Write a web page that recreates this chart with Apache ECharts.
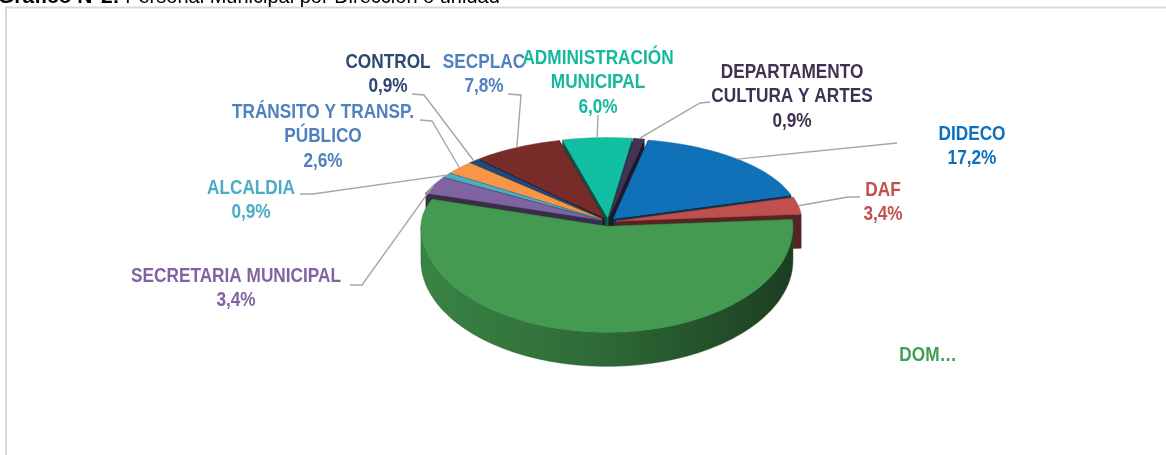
<!DOCTYPE html>
<html>
<head>
<meta charset="utf-8">
<script src="https://cdn.jsdelivr.net/npm/echarts@6/dist/echarts.min.js"></script>
<style>
html, body { margin: 0; padding: 0; background: #fff; }
#main { width: 1166px; height: 455px; }
</style>
</head>
<body>
<div id="main"></div>
<script>
var categories = ['ADMINISTRACIÓN\nMUNICIPAL', 'DEPARTAMENTO\nCULTURA Y ARTES', 'DIDECO', 'DAF', 'DOM',
    'SECRETARIA MUNICIPAL', 'ALCALDIA', 'TRÁNSITO Y TRANSP.\nPÚBLICO', 'CONTROL', 'SECPLAC'];
var values = [6.0, 0.9, 17.2, 3.4, 56.9, 3.4, 0.9, 2.6, 0.9, 7.8];
// DOM label is cut off in the original
var shortLabels = [null, null, null, null, 'DOM…', null, null, null, null, null];

var sliceColors = ['#12BFA2', '#433356', '#1071B9', '#C0504D', '#439A50', '#8064A2', '#4BACC6', '#F79646', '#1F497D', '#772C2A'];
var labelColors = ['#14B89C', '#3F3151', '#0B70BF', '#C0504D', '#3DA14F', '#8064A2', '#4BACC6', '#4F81BD', '#2C4770', '#4F81BD'];

// label layout (centre of first line) and leader line points on the label side
var labelPos = [[598, 58], [792, 72], [972, 134], [883, 190], [928, 355], [236, 276], [251, 188], [323, 112], [388, 62], [484, 62]];
var leaderPts = [[[598, 115]], [[710, 102], [700, 103]], [[897, 143]], [[860, 197], [848, 197]], null,
    [[350, 285], [362, 285]], [[300, 194], [313, 194]], [[420, 120], [432, 121]], [[412, 94], [424, 95]], [[508, 94], [521, 95]]];

var CX = 608, CY = 222, RX = 186, RYB = 80, RYF = 106, H = 34, EXP = 8, START = -14;

var total = values.reduce(function (a, b) { return a + b; }, 0);
var starts = [];
var acc = START;
values.forEach(function (v) { starts.push(acc); acc += v / total * 360; });

function shade(hex, f) {
    var n = parseInt(hex.slice(1), 16);
    var r = Math.round(((n >> 16) & 255) * f), g = Math.round(((n >> 8) & 255) * f), b = Math.round((n & 255) * f);
    return 'rgb(' + r + ',' + g + ',' + b + ')';
}

function pt(th, ox, oy, dz) {
    var r = th * Math.PI / 180;
    var c = Math.cos(r);
    var ry = c > 0 ? RYB : RYF;
    return [CX + ox + RX * Math.sin(r), CY + oy - ry * c + dz];
}

function arc(s, e, ox, oy, dz) {
    var pts = [];
    var n = Math.max(2, Math.ceil(Math.abs(e - s) / 2));
    for (var i = 0; i <= n; i++) {
        pts.push(pt(s + (e - s) * i / n, ox, oy, dz));
    }
    return pts;
}

function visibleRange(a0, a1) {
    for (var k = -360; k <= 360; k += 360) {
        var s = Math.max(a0, 90 + k), e = Math.min(a1, 270 + k);
        if (e > s) return [s, e];
    }
    return null;
}

function fmt(v) {
    return v.toFixed(1).replace('.', ',') + '%';
}

// draw order: back slices first
var depthRank = values.map(function (v, i) {
    var mid = starts[i] + v / total * 180;
    return { i: i, d: -Math.cos(mid * Math.PI / 180) };
}).sort(function (a, b) { return a.d - b.d; });
var rankOf = [];
depthRank.forEach(function (o, k) { rankOf[o.i] = k; });

function renderSlice(params, api) {
    var i = params.dataIndex;
    var v = api.value(0);
    var a0 = starts[i];
    var a1 = a0 + v / total * 360;
    var mid = (a0 + a1) / 2;
    var mr = mid * Math.PI / 180;
    var ox = EXP * Math.sin(mr), oy = -EXP * Math.cos(mr) * 0.55;
    var col = sliceColors[i];
    var base = rankOf[i] * 10;
    var c0 = [CX + ox, CY + oy];
    var c1 = [CX + ox, CY + oy + H];
    var children = [];

    // radial faces, back-facing first
    var faces = [[a0, a0 - 90], [a1, a1 + 90]].map(function (f) {
        var p0 = pt(f[0], ox, oy, 0), p1 = pt(f[0], ox, oy, H);
        return { pts: [c0, p0, p1, c1], front: -Math.cos(f[1] * Math.PI / 180) };
    }).sort(function (a, b) { return a.front - b.front; });
    faces.forEach(function (f, k) {
        children.push({
            type: 'polygon', z2: base + 1 + k,
            shape: { points: f.pts },
            style: { fill: shade(col, 0.45), stroke: shade(col, 0.45), lineWidth: 0.5 }
        });
    });

    // outer wall
    var vr = visibleRange(a0, a1);
    if (vr) {
        var wall = arc(vr[0], vr[1], ox, oy, 0).concat(arc(vr[1], vr[0], ox, oy, H));
        children.push({
            type: 'polygon', z2: base + 4,
            shape: { points: wall },
            style: {
                fill: {
                    type: 'linear', x: 0, y: 0, x2: 1, y2: 0,
                    colorStops: [
                        { offset: 0, color: shade(col, 0.85) },
                        { offset: 0.45, color: shade(col, 0.7) },
                        { offset: 1, color: shade(col, 0.4) }
                    ]
                },
                stroke: shade(col, 0.6), lineWidth: 0.5
            }
        });
    }

    // top face
    children.push({
        type: 'polygon', z2: base + 6,
        shape: { points: [c0].concat(arc(a0, a1, ox, oy, 0)) },
        style: { fill: col, stroke: shade(col, 0.9), lineWidth: 0.5 }
    });

    // leader line
    if (leaderPts[i]) {
        children.push({
            type: 'polyline', z2: 900,
            shape: { points: leaderPts[i].concat([pt(mid, ox, oy, 0)]) },
            style: { stroke: '#A6A6A6', lineWidth: 1.4, fill: null }
        });
    }

    // label (narrow bold face imitated with a horizontal squeeze)
    var txt = shortLabels[i] || (categories[i] + '\n' + fmt(v));
    children.push({
        type: 'text', z2: 1000,
        x: labelPos[i][0],
        y: labelPos[i][1] - 12.25,
        scaleX: 0.82,
        style: {
            text: txt,
            x: 0,
            y: 0,
            align: 'center',
            verticalAlign: 'top',
            lineHeight: 24.5,
            fontSize: 21,
            fontWeight: 'bold',
            fontFamily: '"Liberation Sans", Arial, sans-serif',
            fill: labelColors[i]
        }
    });

    return { type: 'group', children: children };
}

var myChart = echarts.init(document.getElementById('main'));

var option = {
    animation: false,
    backgroundColor: '#ffffff',
    graphic: [
        {
            type: 'rect',
            shape: { x: 6, y: 7.5, width: 1200, height: 480 },
            style: { fill: null, stroke: '#D9D9D9', lineWidth: 2 }
        },
        {
            type: 'text',
            x: -2, y: -3,
            style: {
                text: '{b|Gráfico N°2:} Personal Municipal por Dirección o unidad',
                fontSize: 20,
                fontFamily: '"Liberation Sans", Arial, sans-serif',
                fill: '#000',
                verticalAlign: 'middle',
                rich: {
                    b: { fontWeight: 'bold', fontSize: 21, fontFamily: '"Liberation Sans", Arial, sans-serif', fill: '#000' }
                }
            }
        }
    ],
    series: [
        {
            type: 'custom',
            coordinateSystem: 'none',
            silent: true,
            data: values.map(function (v, i) { return [v, i]; }),
            renderItem: renderSlice
        }
    ]
};

myChart.setOption(option);
</script>
</body>
</html>
